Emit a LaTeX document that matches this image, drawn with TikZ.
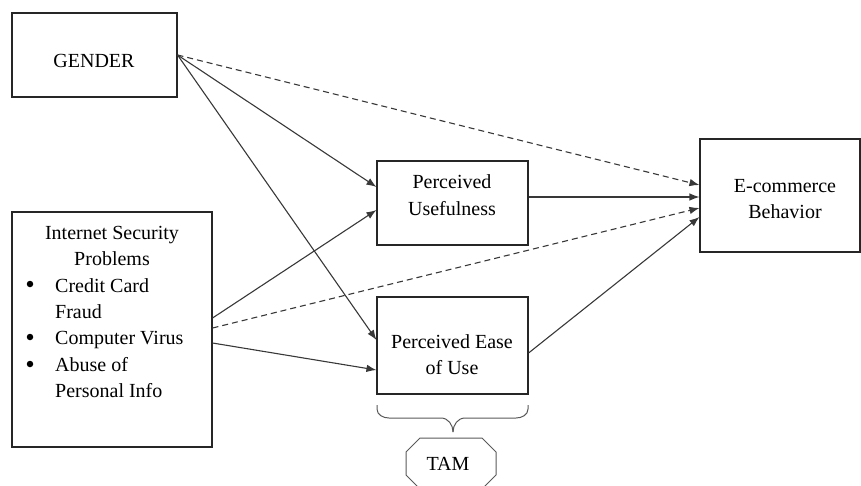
\documentclass[tikz,border=0pt]{standalone}
\usepackage{fontspec}
\setmainfont{Liberation Serif}
\usetikzlibrary{arrows.meta,calc}
\begin{document}
\begin{tikzpicture}[x=1pt,y=-1pt,
  box/.style={draw=black!85,line width=1.1pt,rectangle,inner sep=0pt},
  txt/.style={anchor=base,inner sep=0pt,font=\fontsize{20}{26}\selectfont},
  bul/.style={circle,fill=black,inner sep=0pt,minimum size=6.5pt},
  arr/.style={draw=black!78,line width=1.1pt,-{Latex[length=10pt,width=7.5pt]}},
  dsh/.style={arr,dash pattern=on 6pt off 4pt}]
\useasboundingbox (0,0) rectangle (861,485);
% boxes
\node[box,minimum width=165pt,minimum height=84pt] (gender) at (94.5,55) {};
\node[box,minimum width=200pt,minimum height=235pt] (isp) at (112,329.5) {};
\node[box,minimum width=151pt,minimum height=84pt] (pu) at (452.5,203) {};
\node[box,minimum width=151pt,minimum height=97pt] (peu) at (452.5,345.5) {};
\node[box,minimum width=160pt,minimum height=113pt] (ecom) at (780,195.5) {};
% texts
\node[txt] (gt) at (94,67) {GENDER};
\node[txt] (i1) at (112,239) {Internet Security};
\node[txt] (i2) at (112,265) {Problems};
\node[bul] (b1) at (30,284) {};
\node[txt,anchor=base west] (l1) at (55,292) {Credit Card};
\node[txt,anchor=base west] (l2) at (55,318) {Fraud};
\node[bul] (b2) at (30,337) {};
\node[txt,anchor=base west] (l3) at (55,344) {Computer Virus};
\node[bul] (b3) at (30,364) {};
\node[txt,anchor=base west] (l4) at (55,371) {Abuse of};
\node[txt,anchor=base west] (l5) at (55,397) {Personal Info};
\node[txt] (pu1) at (452,188) {Perceived};
\node[txt] (pu2) at (452,215) {Usefulness};
\node[txt] (pe1) at (452,348) {Perceived Ease};
\node[txt] (pe2) at (452,374) {of Use};
\node[txt] (ec1) at (785,192) {E-commerce};
\node[txt] (ec2) at (785,218) {Behavior};
% connectors
\draw[arr] (gender.east) -- ($(pu.west)+(0,-16)$);
\draw[arr] (gender.east) -- ($(peu.west)+(0,-5.5)$);
\draw[dsh] (gender.east) -- ($(ecom.west)+(0,-10.5)$);
\draw[arr] ($(isp.east)+(0,-11.5)$) -- ($(pu.west)+(0,7)$);
\draw[dsh] ($(isp.east)+(0,-1.5)$) -- ($(ecom.west)+(0,12.5)$);
\draw[arr] ($(isp.east)+(0,13.5)$) -- ($(peu.west)+(0,24.5)$);
\draw[arr] ($(pu.east)+(0,-6)$) -- ($(ecom.west)+(0,1.5)$);
\draw[arr] ($(peu.east)+(0,7.5)$) -- ($(ecom.west)+(0,21.5)$);
% brace
\coordinate (bl) at (377,405);
\coordinate (br) at (528,405);
\coordinate (btip) at (453,432);
\draw[black!65,line width=1pt] (bl) -- ++(0,4) to[out=-90,in=180] (389,418) -- (441,418) to[out=0,in=90] (btip);
\draw[black!65,line width=1pt] (br) -- ++(0,4) to[out=-90,in=0] (516,418) -- (465,418) to[out=180,in=90] (btip);
% TAM octagon
\draw[black!65,line width=1pt] (420,438) -- (482,438) -- (496,452) -- (496,475) -- (482,489)
  -- (420,489) -- (406,475) -- (406,452) -- cycle;
\node[txt] (tamt) at (448,470) {TAM};
\end{tikzpicture}
\end{document}
